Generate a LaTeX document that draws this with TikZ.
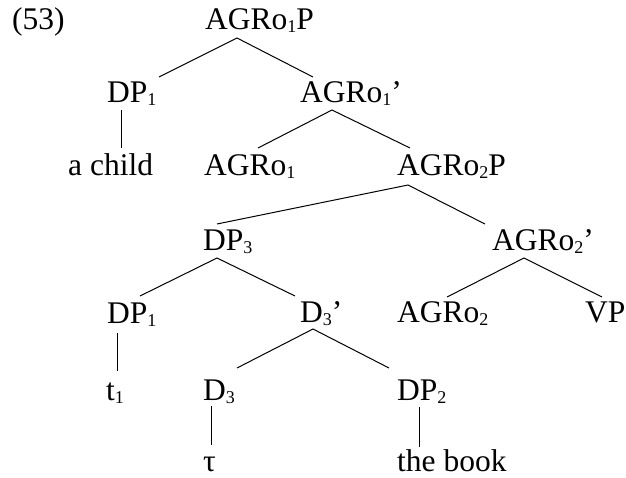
\documentclass[tikz,border=0pt]{standalone}
\usepackage{fontspec}
\setmainfont{Liberation Serif}
\newcommand\sbs[1]{\raisebox{-0.1em}{\fontsize{18}{18}\selectfont #1}}
\begin{document}
\begin{tikzpicture}[x=1pt,y=-1pt,
  lbl/.style={anchor=base west,inner sep=0pt,font=\fontsize{31.5}{31.5}\selectfont},
  edge/.style={line width=1pt}]
\useasboundingbox (0,0) rectangle (626,477);
\node[lbl] (ex) at (12,29) {(53)};
\node[lbl] (agr1p) at (205,29) {AGRo\sbs{1}P};
\node[lbl] (dp1a) at (107,102) {DP\sbs{1}};
\node[lbl] (agr1bar) at (300,102) {AGRo\sbs{1}’};
\node[lbl] (child) at (68,175) {a child};
\node[lbl] (agr1) at (204,175) {AGRo\sbs{1}};
\node[lbl] (agr2p) at (397,175) {AGRo\sbs{2}P};
\node[lbl] (dp3) at (203,250) {DP\sbs{3}};
\node[lbl] (agr2bar) at (492,250) {AGRo\sbs{2}’};
\node[lbl] (dp1b) at (107,323) {DP\sbs{1}};
\node[lbl] (d3bar) at (300,322) {D\sbs{3}’};
\node[lbl] (agr2) at (397,322) {AGRo\sbs{2}};
\node[lbl] (vp) at (585,322) {VP};
\node[lbl] (t1) at (106,400) {t\sbs{1}};
\node[lbl] (d3) at (203,400) {D\sbs{3}};
\node[lbl] (dp2) at (397,400) {DP\sbs{2}};
\node[lbl] (tau) at (203,471) {τ};
\node[lbl] (book) at (397,471) {the book};
% edges
\draw[edge] ([shift={(52,-25)}]dp1a.base west) -- ([shift={(32,9)}]agr1p.base west) -- ([shift={(13,-25)}]agr1bar.base west);
\draw[edge] ([shift={(14,8)}]dp1a.base west) -- ([shift={(53,-27)}]child.base west);
\draw[edge] ([shift={(54,-27)}]agr1.base west) -- ([shift={(32,8)}]agr1bar.base west) -- ([shift={(13,-27)}]agr2p.base west);
\draw[edge] ([shift={(14,-26)}]dp3.base west) -- ([shift={(11,10)}]agr2p.base west) -- ([shift={(-7,-26)}]agr2bar.base west);
\draw[edge] ([shift={(33,-27)}]dp1b.base west) -- ([shift={(14,8)}]dp3.base west) -- ([shift={(-5,-26)}]d3bar.base west);
\draw[edge] ([shift={(50,-25)}]agr2.base west) -- ([shift={(32,8)}]agr2bar.base west) -- ([shift={(17,-25)}]vp.base west);
\draw[edge] ([shift={(10,10)}]dp1b.base west) -- ([shift={(11,-29)}]t1.base west);
\draw[edge] ([shift={(34,-32)}]d3.base west) -- ([shift={(13,7)}]d3bar.base west) -- ([shift={(-8,-32)}]dp2.base west);
\draw[edge] ([shift={(8,6)}]d3.base west) -- ([shift={(8,-26)}]tau.base west);
\draw[edge] ([shift={(22,7)}]dp2.base west) -- ([shift={(22,-24)}]book.base west);
\end{tikzpicture}
\end{document}
